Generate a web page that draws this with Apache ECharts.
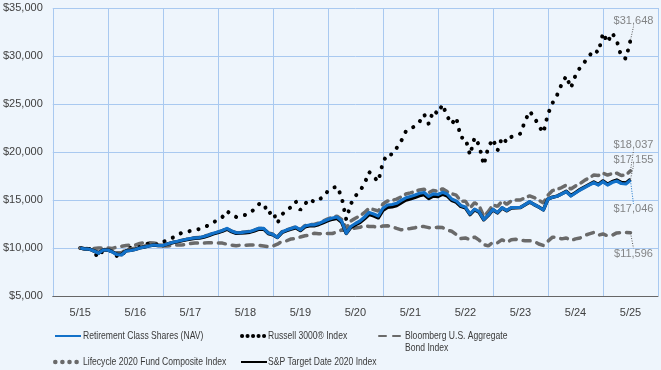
<!DOCTYPE html>
<html>
<head>
<meta charset="utf-8">
<script src="https://cdn.jsdelivr.net/npm/echarts@6/dist/echarts.min.js"></script>
<style>
html,body{margin:0;padding:0;background:#eef5fc;}
#chart{width:661px;height:370px;}
</style>
</head>
<body>
<div id="chart"></div>
<script>
// Category labels (one per year, May)
const yearLabels = ['5/15','5/16','5/17','5/18','5/19','5/20','5/21','5/22','5/23','5/24','5/25'];
// Y axis ticks
const yTicks = [5000, 10000, 15000, 20000, 25000, 30000, 35000];
// Series names (legend text)
const seriesNames = [
  'Retirement Class Shares (NAV)',
  'Russell 3000® Index',
  'Bloomberg U.S. Aggregate Bond Index',
  'Lifecycle 2020 Fund Composite Index',
  'S&P Target Date 2020 Index'
];

// Monthly growth of $10,000 (May 2015 .. May 2025)
const retirement = [
  10000,9900,9870,9690,9450,9790,9790,9580,9320,9270,
  9690,9740,9840,10000,10100,10210,10310,10260,10260,10420,
  10570,10680,10780,10890,10990,11060,11090,11200,11350,11530,
  11670,11820,12050,11770,11590,11610,11670,11720,11880,12050,
  12050,11560,11410,11110,11670,11880,12030,12190,11880,12290,
  12400,12400,12550,12760,12970,13130,13230,12810,11530,12240,
  12550,12810,13230,13700,13540,13330,14140,14480,14530,14660,
  14950,15230,15370,15520,15700,15780,15370,15630,15570,15800,
  15630,15100,14900,14430,14270,13540,14060,13780,12970,13440,
  14030,13700,14200,13910,14200,14220,14240,14530,14820,14530,
  14270,13960,15100,15280,15390,15630,15870,15420,15730,16040,
  16300,16560,16800,16560,16910,16560,16820,16980,16720,16670,
  17046
];
const russell = [
  10000,9950,9900,9480,9060,9790,9790,9690,9170,9110,
  9900,10000,10100,10100,10420,10470,10470,10310,10620,10830,
  11040,11250,11560,11670,11770,11880,11980,12190,12350,12660,
  12920,13230,13850,13440,13230,13330,13440,13650,14060,14580,
  14640,13540,13850,12600,13490,13960,14270,14840,13960,14580,
  15100,14790,15050,15310,15940,16250,16410,15310,12970,14580,
  15420,15940,16720,17920,17400,16930,18930,19790,19740,20420,
  21150,22140,22400,22710,23160,23930,22920,24320,23990,24950,
  23750,22920,23590,21510,21460,19690,21510,20700,18650,20520,
  21350,20140,21530,21010,21560,21770,21910,23230,24240,23650,
  22710,22010,23960,25100,25940,27080,27920,26670,27970,28800,
  29380,30000,30630,30370,32400,31410,32400,31620,29930,29720,
  31648
];
const bloomberg = [
  10000,9890,9950,9940,10010,10010,9990,9960,10100,10170,
  10260,10300,10300,10480,10550,10540,10530,10450,10200,10220,
  10240,10310,10300,10380,10460,10530,10500,10510,10560,10520,
  10520,10510,10390,10290,10230,10300,10280,10300,10310,10270,
  10210,10140,10210,10400,10700,10750,10950,10980,11150,11280,
  11320,11540,11480,11520,11520,11510,11670,11880,11810,12020,
  12080,12160,12340,12240,12230,12170,12290,12310,12220,12040,
  11890,11990,12030,12110,12250,12230,12120,12120,12160,12130,
  11870,11740,11410,10980,11050,10870,11140,10820,10350,10220,
  10590,10540,10870,10580,10850,10910,10790,10760,10760,10690,
  10420,10260,10720,11130,11100,10950,11050,10770,10950,11050,
  11310,11470,11620,11340,11460,11270,11330,11570,11580,11620,
  11596
];
const lifecycle = [
  10000,9920,9950,9650,9550,9850,9830,9720,9500,9500,
  9850,9900,9980,10050,10200,10260,10320,10250,10250,10420,
  10560,10670,10780,10880,10990,11060,11110,11220,11360,11530,
  11660,11800,12000,11760,11600,11620,11680,11730,11880,12030,
  12040,11580,11470,11150,11700,11890,12050,12210,11930,12330,
  12440,12450,12600,12810,13040,13200,13320,12980,12050,12800,
  13100,13350,13700,14140,14000,13850,14580,14900,14960,15090,
  15330,15620,15740,15880,16050,16120,15760,16000,15900,16170,
  15880,15650,15500,14880,14880,14160,14720,14400,13300,13800,
  14500,14330,14900,14560,14900,14990,15000,15250,15430,15250,
  14980,14700,15500,15980,16120,16300,16550,16140,16460,16700,
  17050,17300,17600,17550,17800,17600,17750,17800,17550,17600,
  18037
];
const spTarget = [
  10000,9910,9880,9700,9480,9800,9800,9610,9350,9310,
  9720,9760,9860,10010,10110,10220,10310,10270,10250,10400,
  10540,10640,10740,10850,10940,11010,11040,11140,11290,11470,
  11600,11750,11970,11700,11530,11550,11600,11650,11800,11960,
  11970,11510,11370,11100,11620,11820,11960,12110,11820,12210,
  12310,12310,12450,12650,12850,13000,13090,12700,11520,12150,
  12420,12660,13060,13500,13340,13150,13920,14250,14300,14430,
  14720,14990,15130,15280,15460,15560,15160,15410,15370,15610,
  15440,14960,14780,14330,14180,13480,13990,13720,12940,13400,
  13990,13660,14160,13880,14170,14200,14220,14510,14800,14520,
  14270,13970,15100,15290,15400,15650,15900,15460,15770,16090,
  16360,16620,16870,16620,16980,16640,16910,17070,16820,16770,
  17155
];

const FONT = "'Liberation Sans', Arial, sans-serif";
const fmt = v => '$' + Math.round(v).toLocaleString('en-US');

const toData = arr => arr.map((v, i) => [i, v]);
const lastPoint = arr => [[arr.length - 1, arr[arr.length - 1]]];

const chart = echarts.init(document.getElementById('chart'), null, { renderer: 'canvas' });

// Legend: icons from ECharts legend, condensed text drawn beside them
const legendBase = {
  orient: 'horizontal',
  padding: 0,
  itemWidth: 26,
  itemHeight: 14,
  itemGap: 4,
  itemStyle: { opacity: 0 },
  formatter: () => '',
  textStyle: { fontSize: 11 },
  selectedMode: false
};

function legendText(text, x, y) {
  return {
    type: 'text',
    x: x,
    y: y,
    scaleX: 0.745,
    silent: true,
    style: {
      text: text,
      fill: '#3a3a3a',
      fontSize: 11.5,
      fontFamily: FONT,
      lineHeight: 12,
      verticalAlign: 'middle'
    }
  };
}

function labelSeries(arr, dx, dy, guideColor) {
  return {
    type: 'scatter',
    xAxisIndex: 1,
    symbolSize: 1,
    itemStyle: { color: 'rgba(0,0,0,0)' },
    z: 10,
    silent: true,
    data: lastPoint(arr),
    label: {
      show: true,
      position: 'inside',
      formatter: p => fmt(p.value[1]),
      color: '#666',
      fontSize: 11,
      fontFamily: FONT
    },
    labelLine: { show: true, lineStyle: { color: guideColor, type: [1, 1.5], width: 1 } },
    labelLayout: { dx: dx, dy: dy }
  };
}

const option = {
  backgroundColor: '#eef5fc',
  animation: false,
  grid: { left: 50, right: 3, top: 8, bottom: 74, containLabel: false },
  xAxis: [
    {
      type: 'category',
      data: yearLabels,
      boundaryGap: true,
      axisLine: { show: true, lineStyle: { color: '#666', width: 1 } },
      axisTick: { show: false },
      axisLabel: { color: '#404040', fontSize: 11, fontFamily: FONT, margin: 11 },
      splitLine: { show: true, lineStyle: { color: '#a9c9f0', width: 1 } }
    },
    {
      type: 'value',
      min: -6,
      max: 126,
      show: false
    }
  ],
  yAxis: {
    type: 'value',
    min: yTicks[0],
    max: yTicks[yTicks.length - 1],
    interval: 5000,
    axisLine: { show: false },
    axisTick: { show: false },
    axisLabel: { color: '#404040', fontSize: 11, fontFamily: FONT, margin: 10, formatter: v => fmt(v) },
    splitLine: { show: true, lineStyle: { color: '#a9c9f0', width: 1 } }
  },
  legend: [
    Object.assign({}, legendBase, { data: [seriesNames[0]], left: 54, top: 329 }),
    Object.assign({}, legendBase, { data: [seriesNames[1]], left: 240, top: 329,
      lineStyle: { type: [0.1, 5.4], cap: 'round', width: 4 } }),
    Object.assign({}, legendBase, { data: [seriesNames[2]], left: 378, top: 329 }),
    Object.assign({}, legendBase, { data: [seriesNames[3]], left: 53, top: 355,
      lineStyle: { type: [0.1, 7], cap: 'round', width: 4.5 } }),
    Object.assign({}, legendBase, { data: [seriesNames[4]], left: 240, top: 355 })
  ],
  graphic: [
    legendText('Retirement Class Shares (NAV)', 83, 336),
    legendText('Russell 3000® Index', 268, 336),
    legendText('Bloomberg U.S. Aggregate', 405, 336),
    legendText('Bond Index', 405, 348),
    legendText('Lifecycle 2020 Fund Composite Index', 83, 362),
    legendText('S&P Target Date 2020 Index', 268, 362)
  ],
  series: [
    {
      name: seriesNames[0],
      type: 'line',
      xAxisIndex: 1,
      symbol: 'none',
      z: 6,
      color: '#1271c9',
      lineStyle: { color: '#1271c9', width: 3.2, join: 'round' },
      data: toData(retirement)
    },
    {
      name: seriesNames[1],
      type: 'line',
      xAxisIndex: 1,
      symbol: 'none',
      z: 3,
      color: '#000',
      lineStyle: { color: '#000', width: 4, type: [0.1, 9], cap: 'round' },
      data: toData(russell)
    },
    {
      name: seriesNames[2],
      type: 'line',
      xAxisIndex: 1,
      symbol: 'none',
      z: 2,
      color: '#6a6a6a',
      lineStyle: { color: '#6a6a6a', width: 3.5, type: [7, 7], cap: 'round' },
      data: toData(bloomberg)
    },
    {
      name: seriesNames[3],
      type: 'line',
      xAxisIndex: 1,
      symbol: 'none',
      z: 4,
      color: '#6a6a6a',
      lineStyle: { color: '#6a6a6a', width: 3.5, type: [7, 6], cap: 'round' },
      data: toData(lifecycle)
    },
    {
      name: seriesNames[4],
      type: 'line',
      xAxisIndex: 1,
      symbol: 'none',
      z: 5,
      color: '#000',
      lineStyle: { color: '#000', width: 3.5, join: 'round' },
      data: toData(spTarget)
    },
    labelSeries(russell, 3, -19, '#555'),
    labelSeries(lifecycle, 3, -26, '#555'),
    labelSeries(spTarget, 3, -19, '#555'),
    labelSeries(retirement, 3, 29, '#1271c9'),
    labelSeries(bloomberg, 3, 21, '#555')
  ]
};

chart.setOption(option);
</script>
</body>
</html>
